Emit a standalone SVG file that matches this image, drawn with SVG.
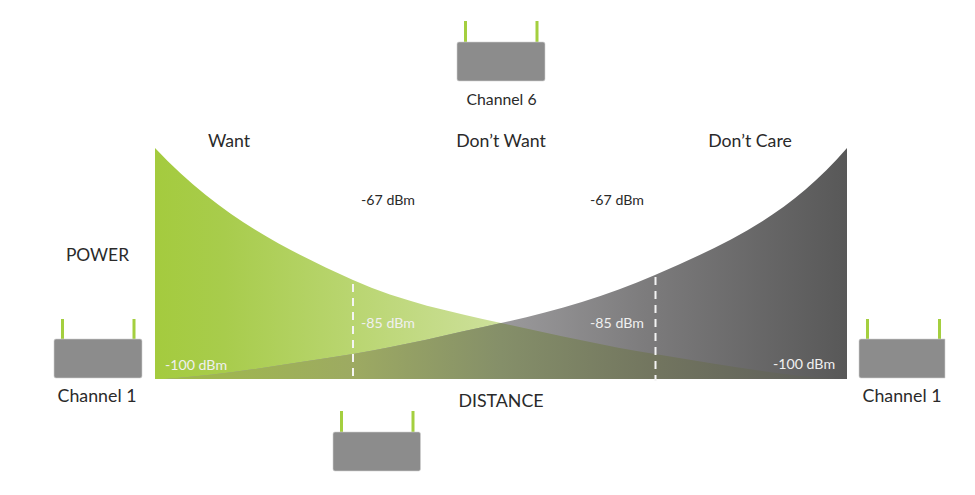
<svg xmlns="http://www.w3.org/2000/svg" width="975" height="495" viewBox="0 0 975 495">
<style>
text{font-family:"Lato","Open Sans",sans-serif;fill:#2a2a2a;}
.h{font-size:17.700px;text-anchor:middle}
.s{font-size:14.200px;text-anchor:middle}
.w{fill:#f0f0f0}
.c{font-size:17.800px;text-anchor:middle}
.ant{stroke:#a4cf3f;stroke-width:3;fill:none}
.box{fill:#8c8c8c;stroke:#d0d0d0;stroke-width:.6}
.dash{stroke:#f4f4f4;stroke-width:2;stroke-dasharray:8 6;fill:none}
</style>
<defs>
<linearGradient id="g" gradientUnits="userSpaceOnUse" x1="155" y1="0" x2="847" y2="0">
<stop offset="0" stop-color="#a4cb3e"/><stop offset=".1" stop-color="#a8cc4c"/><stop offset=".5" stop-color="#cde09b"/><stop offset="1" stop-color="#cde09b"/>
</linearGradient>
<linearGradient id="k" gradientUnits="userSpaceOnUse" x1="155" y1="0" x2="847" y2="0">
<stop offset=".5" stop-color="#9b9a9c"/><stop offset=".72" stop-color="#7b7a7b"/><stop offset="1" stop-color="#585858"/>
</linearGradient>
<linearGradient id="o" gradientUnits="userSpaceOnUse" x1="165" y1="0" x2="837" y2="0">
<stop offset="0" stop-color="#a0bb48"/><stop offset=".28" stop-color="#9daa62"/><stop offset=".5" stop-color="#858f69"/><stop offset=".73" stop-color="#72755f"/><stop offset="1" stop-color="#5c5c5a"/>
</linearGradient>
<clipPath id="gc"><path d="M155 148C221 218 287 250 353 280C402 302 452 312 501 323C552 334 604 346 655 354C716 364 776 375 837 379H155Z"/></clipPath>
</defs>
<g id="connectors">
<path id="green-area" fill="url(#g)" d="M155 148C221 218 287 250 353 280C402 302 452 312 501 323C552 334 604 346 655 354C716 364 776 375 837 379H155Z"/>
<path id="gray-area" fill="url(#k)" d="M847 148C787 218 721 246 655 275C605 297 552 312 501 323C450 334 402 346 353 354C286 364 226 375 165 379H847Z"/>
<path id="overlap" fill="url(#o)" clip-path="url(#gc)" d="M847 148C787 218 721 246 655 275C605 297 552 312 501 323C450 334 402 346 353 354C286 364 226 375 165 379H847Z"/>
<path class="dash" d="M353 284V381"/>
<path class="dash" d="M655.500 277V381"/>
</g>
<text class="h" x="229" y="147">Want</text>
<text class="h" x="501" y="147">Don’t Want</text>
<text class="h" x="750" y="147">Don’t Care</text>
<text class="s" x="388" y="205">-67 dBm</text>
<text class="s" x="617" y="205">-67 dBm</text>
<text class="s w" x="388" y="328">-85 dBm</text>
<text class="s w" x="617" y="328">-85 dBm</text>
<text class="s w" x="196" y="370">-100 dBm</text>
<text class="s w" x="804" y="369">-100 dBm</text>
<text class="c" x="97.500" y="261" style="font-size:17.400px">POWER</text>
<text class="c" x="501" y="407">DISTANCE</text>
<g id="ap-top">
<path class="ant" d="M465.500 21V42M537 21V42"/><rect class="box" x="457" y="42" width="88" height="39" rx="2"/>
<text class="s" x="501.500" y="105" style="font-size:15.800px">Channel 6</text>
</g>
<g id="ap-left">
<path class="ant" d="M62.500 319V339M134 319V339"/><rect class="box" x="54" y="339" width="88" height="39" rx="2"/>
<text class="c" x="97" y="402">Channel 1</text>
</g>
<g id="ap-right">
<path class="ant" d="M867.500 319V339M939.500 319V339"/><path class="box" d="M945 339H861a2 2 0 0 0-2 2V376a2 2 0 0 0 2 2H945Z"/>
<text class="c" x="902" y="402">Channel 1</text>
</g>
<g id="ap-bottom">
<path class="ant" d="M341.500 411V432M413 411V432"/><rect class="box" x="333" y="432" width="87.500" height="39" rx="2"/>
</g>
</svg>
